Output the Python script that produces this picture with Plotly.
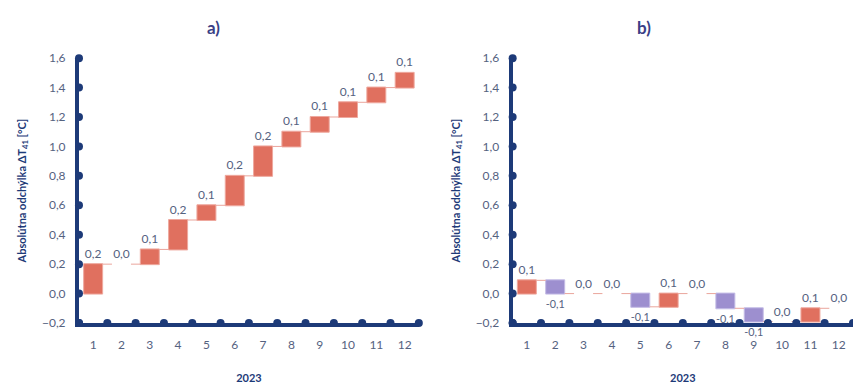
import plotly.graph_objects as go
from plotly.subplots import make_subplots

# mesiace 2023
mesiace = list(range(1, 13))
mesiace_txt = [str(m) for m in mesiace]

# a) kumulativna odchylka - mesacne prirastky
zmena_a = [0.20, 0.00, 0.10, 0.20, 0.10, 0.20, 0.20, 0.10, 0.10, 0.10, 0.10, 0.10]
# b) mesacne prirastky
zmena_b = [0.09, -0.09, 0.00, 0.00, -0.09, 0.09, 0.00, -0.10, -0.09, 0.00, 0.09, 0.00]

y_ticky = [-0.2, 0.0, 0.2, 0.4, 0.6, 0.8, 1.0, 1.2, 1.4, 1.6]
nadpisy = ["a)", "b)"]

NAVY = "#1d3a78"
CERVENA = "#e0705f"
FIALOVA = "#9d8fcf"
TEXT = "#55627f"
FONT = "Lato"


def popis(v):
    return f"{v:.1f}".replace(".", ",")


fig = make_subplots(rows=1, cols=2, horizontal_spacing=0.11)

for i, zmena in enumerate([zmena_a, zmena_b]):
    col = i + 1
    fig.add_trace(
        go.Waterfall(
            x=mesiace,
            y=zmena,
            measure=["relative"] * len(zmena),
            width=0.67,
            text=[popis(v) for v in zmena],
            texttemplate="%{text}",
            textposition="outside",
            textfont=dict(family=FONT, size=12, color=TEXT),
            increasing=dict(marker=dict(color=CERVENA, line=dict(color="#eea89e", width=1))),
            decreasing=dict(marker=dict(color=FIALOVA, line=dict(color="#c4bce6", width=1))),
            connector=dict(line=dict(color="#eaa59c", width=1)),
            cliponaxis=False,
            showlegend=False,
            hoverinfo="skip",
        ),
        row=1, col=col,
    )
    # bodky na osiach (na hraniciach kategorii a pri tickoch)
    hranice = [m - 0.5 for m in mesiace] + [mesiace[-1] + 0.5]
    fig.add_trace(
        go.Scatter(
            x=hranice, y=[y_ticky[0]] * len(hranice),
            mode="markers", marker=dict(color=NAVY, size=8),
            cliponaxis=False, showlegend=False, hoverinfo="skip",
        ),
        row=1, col=col,
    )
    fig.add_trace(
        go.Scatter(
            x=[hranice[0]] * len(y_ticky), y=y_ticky,
            mode="markers", marker=dict(color=NAVY, size=8),
            cliponaxis=False, showlegend=False, hoverinfo="skip",
        ),
        row=1, col=col,
    )

x_dom = [[0.0926, 0.491], [0.601, 1.0]]
for i in range(2):
    col = i + 1
    fig.update_xaxes(
        domain=x_dom[i],
        range=[0.5, 12.5],
        tickvals=mesiace, ticktext=mesiace_txt,
        showline=True, linecolor=NAVY, linewidth=4,
        showgrid=False, zeroline=False, ticks="",
        ticklabelstandoff=8,
        automargin=False,
        tickfont=dict(family=FONT, size=12, color=TEXT),
        title=dict(text="<b>2023</b>", font=dict(family=FONT, size=11, color=NAVY), standoff=24),
        row=1, col=col,
    )
    fig.update_yaxes(
        domain=[0.161, 0.849],
        range=[-0.2, 1.6],
        tickvals=y_ticky, tickformat=".1f",
        showline=True, linecolor=NAVY, linewidth=4,
        showgrid=False, zeroline=False, ticks="",
        ticklabelstandoff=7,
        automargin=False,
        tickfont=dict(family=FONT, size=12, color=TEXT),
        title=dict(text="<b>Absolútna odchýlka ΔT<sub>41</sub> [°C]</b>",
                   font=dict(family=FONT, size=11, color=NAVY), standoff=14),
        row=1, col=col,
    )

for i, txt in enumerate(nadpisy):
    fig.add_annotation(
        x=[0.24, 0.765][i], y=0.96, xref="paper", yref="paper",
        text="<b>" + txt + "</b>", showarrow=False,
        font=dict(family=FONT, size=17, color="#3b3f86"),
    )

fig.update_layout(
    width=853, height=385,
    margin=dict(l=0, r=0, t=0, b=0, autoexpand=False),
    paper_bgcolor="white", plot_bgcolor="white",
    separators=", ",
    font=dict(family=FONT),
)

fig.write_html(
    "out.html",
    config={"displayModeBar": False},
    post_script="document.body.style.margin='0';",
)
